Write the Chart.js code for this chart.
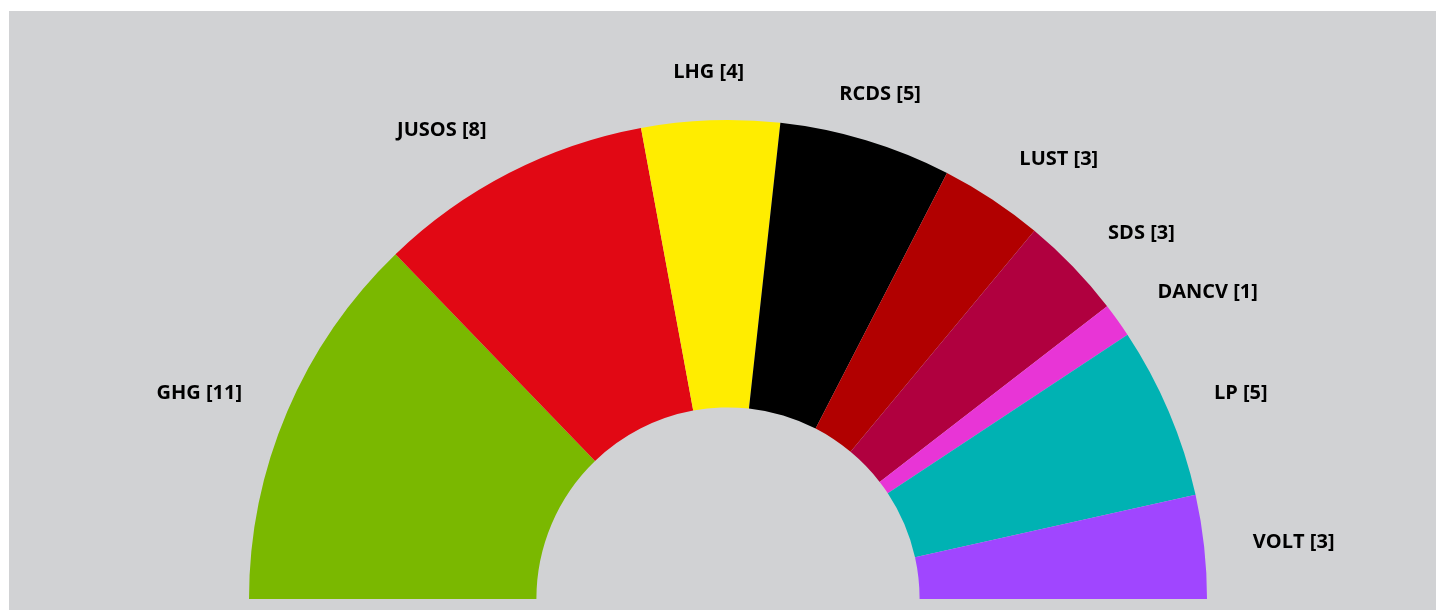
<!DOCTYPE html>
<html>
<head>
<meta charset="utf-8">
<script src="https://cdn.jsdelivr.net/npm/chart.js@4"></script>
<style>
  body { margin: 0; background: #ffffff; }
  #wrap { position: absolute; left: 9px; top: 11px; width: 1427px; height: 599px; background: #d1d2d4; }
</style>
</head>
<body>
<div id="wrap"><canvas id="sitzChart"></canvas></div>
<script>
const parteien = ['GHG', 'JUSOS', 'LHG', 'RCDS', 'LUST', 'SDS', 'DANCV', 'LP', 'VOLT'];
const sitze = [11, 8, 4, 5, 3, 3, 1, 5, 3];
const farben = ['#7ab800', '#e10814', '#ffed00', '#000000', '#b10000', '#b0003f', '#e835d6', '#00b2b3', '#a046ff'];

// Beschriftung ausserhalb der Segmente
const labelPlugin = {
    id: 'sitzLabels',
    afterDatasetsDraw(chart) {
        const ctx = chart.ctx;
        const meta = chart.getDatasetMeta(0);
        ctx.save();
        ctx.font = 'bold 20px "Open Sans"';
        ctx.fillStyle = '#000000';
        ctx.textBaseline = 'middle';
        meta.data.forEach((arc, i) => {
            const mid = (arc.startAngle + arc.endAngle) / 2;
            const r = arc.outerRadius + 49;
            const x = arc.x + Math.cos(mid) * r;
            const y = arc.y + Math.sin(mid) * r + 1;
            const c = Math.cos(mid);
            ctx.textAlign = Math.abs(c) < 0.35 ? 'center' : (c < 0 ? 'right' : 'left');
            ctx.fillText(parteien[i] + ' [' + sitze[i] + ']', x, y);
        });
        ctx.restore();
    }
};

const ctx = document.getElementById('sitzChart').getContext('2d');
new Chart(ctx, {
    type: 'doughnut',
    data: {
        labels: parteien,
        datasets: [{
            data: sitze,
            backgroundColor: farben,
            borderWidth: 0
        }]
    },
    options: {
        responsive: true,
        maintainAspectRatio: false,
        animation: false,
        rotation: -90,
        circumference: 180,
        cutout: '40%',
        layout: {
            padding: { top: 109, bottom: 11, left: 111, right: 100 }
        },
        plugins: {
            legend: { display: false },
            tooltip: { enabled: false }
        }
    },
    plugins: [labelPlugin]
});
</script>
</body>
</html>
